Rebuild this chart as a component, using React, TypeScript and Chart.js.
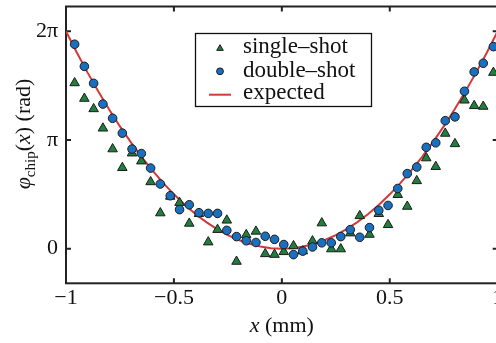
import React, { useEffect, useRef } from 'react';
import { Chart, registerables } from 'chart.js';

Chart.register(...registerables);

// ---- data ----
const positions = [
  -0.96, -0.915, -0.872, -0.829, -0.784, -0.739, -0.694, -0.651, -0.608, -0.563,
  -0.517, -0.474, -0.429, -0.384, -0.341, -0.298, -0.255, -0.21, -0.165, -0.12,
  -0.077, -0.034, 0.009, 0.054, 0.097, 0.142, 0.185, 0.229, 0.273, 0.317,
  0.361, 0.406, 0.449, 0.492, 0.537, 0.581, 0.625, 0.669, 0.713, 0.757,
  0.802, 0.846, 0.891, 0.933, 0.98,
];
const singleShot = [
  4.79, 4.34, 4.04, 3.48, 2.88, 2.34, 2.76, 2.53, 1.93, 1.03,
  1.51, 1.33, 0.73, 1.01, 0.19, 0.55, 0.82, -0.37, 0.4, 0.5,
  -0.15, -0.17, -0.09, 0.08, -0.07, 0.22, 0.74, -0.01, -0.01, 0.45,
  0.95, 0.41, 1.01, 0.69, 1.56, 1.22, 1.96, 2.62, 2.37, 3.33,
  3.03, 4.29, 4.13, 4.11, 5.09,
];
const doubleShot = [
  5.91, 5.27, 4.78, 4.18, 3.77, 3.34, 2.88, 2.75, 2.33, 1.87,
  1.53, 1.13, 1.27, 1.04, 1.02, 1.02, 0.53, 0.35, 0.23, 0.18,
  0.36, 0.27, 0.12, -0.17, -0.07, 0.05, 0.17, 0.17, 0.35, 0.55,
  0.33, 0.61, 1.11, 1.25, 1.74, 2.17, 2.36, 2.93, 3.06, 3.7,
  3.81, 4.55, 5.11, 5.36, 5.84,
];
const expectedX = [
  -1, -0.95, -0.9, -0.85, -0.8, -0.75, -0.7, -0.65, -0.6, -0.55,
  -0.5, -0.45, -0.4, -0.35, -0.3, -0.25, -0.2, -0.15, -0.1, -0.05,
  0, 0.05, 0.1, 0.15, 0.2, 0.25, 0.3, 0.35, 0.4, 0.45,
  0.5, 0.55, 0.6, 0.65, 0.7, 0.75, 0.8, 0.85, 0.9, 0.95, 1,
];
const expectedY = [
  6.283, 5.671, 5.089, 4.54, 4.021, 3.534, 3.079, 2.655, 2.262, 1.901,
  1.571, 1.272, 1.005, 0.77, 0.565, 0.393, 0.251, 0.141, 0.063, 0.016,
  0, 0.016, 0.063, 0.141, 0.251, 0.393, 0.565, 0.77, 1.005, 1.272,
  1.571, 1.901, 2.262, 2.655, 3.079, 3.534, 4.021, 4.54, 5.089, 5.671, 6.283,
];
const xTickValues = [-1, -0.5, 0, 0.5, 1];
const xTickLabels = ['\u22121', '\u22120.5', '0', '0.5', '1'];
const yTickValues = [0, Math.PI, 2 * Math.PI];
const yTickLabels = ['0', '\u03c0', '2\u03c0'];
const legendLabels = ['single\u2013shot', 'double\u2013shot', 'expected'];

// ---- styles ----
const W = 520;
const H = 343;
const SERIF = "'Liberation Serif', 'Times New Roman', serif";
const BLUE = '#1b6fbf';
const GREEN = '#1f7f3c';
const RED = '#d23a3a';
const EDGE = '#1c1c1c';
const AXIS = '#222222';

const decorPlugin = {
  id: 'decor',
  beforeDatasetsDraw(chart: any) {
    const { ctx, chartArea: a, scales } = chart;
    ctx.save();
    ctx.strokeStyle = AXIS;
    ctx.lineWidth = 2;
    ctx.strokeRect(a.left, a.top, a.right - a.left, a.bottom - a.top);
    const tl = 5;
    ctx.beginPath();
    xTickValues.forEach((v) => {
      const px = scales.x.getPixelForValue(v);
      ctx.moveTo(px, a.bottom);
      ctx.lineTo(px, a.bottom - tl);
      ctx.moveTo(px, a.top);
      ctx.lineTo(px, a.top + tl);
    });
    yTickValues.forEach((v) => {
      const py = scales.y.getPixelForValue(v);
      ctx.moveTo(a.left, py);
      ctx.lineTo(a.left + tl, py);
      ctx.moveTo(a.right, py);
      ctx.lineTo(a.right - tl, py);
    });
    ctx.stroke();
    ctx.restore();
  },
  afterDraw(chart: any) {
    const { ctx, scales } = chart;
    ctx.save();
    ctx.fillStyle = '#111';
    ctx.textBaseline = 'alphabetic';

    // x title
    const xs = [
      { t: 'x', f: `italic 22px ${SERIF}` },
      { t: ' (mm)', f: `22px ${SERIF}` },
    ];
    let tw = 0;
    xs.forEach((s) => { ctx.font = s.f; tw += ctx.measureText(s.t).width; });
    let cx = scales.x.getPixelForValue(0) - tw / 2;
    xs.forEach((s) => { ctx.font = s.f; ctx.fillText(s.t, cx, 332); cx += ctx.measureText(s.t).width; });

    // y title (rotated)
    const ys = [
      { t: '\u03c6', f: `italic 22px ${SERIF}`, dy: 0 },
      { t: 'chip', f: `15px ${SERIF}`, dy: 5 },
      { t: '(', f: `22px ${SERIF}`, dy: 0 },
      { t: 'x', f: `italic 22px ${SERIF}`, dy: 0 },
      { t: ') (rad)', f: `22px ${SERIF}`, dy: 0 },
    ];
    tw = 0;
    ys.forEach((s) => { ctx.font = s.f; tw += ctx.measureText(s.t).width; });
    ctx.translate(30, 134);
    ctx.rotate(-Math.PI / 2);
    let ty = -tw / 2;
    ys.forEach((s) => { ctx.font = s.f; ctx.fillText(s.t, ty, s.dy); ty += ctx.measureText(s.t).width; });
    ctx.restore();

    // legend
    ctx.save();
    ctx.fillStyle = '#ffffff';
    ctx.strokeStyle = '#111';
    ctx.lineWidth = 1.3;
    ctx.fillRect(195.5, 33.5, 176, 73);
    ctx.strokeRect(195.5, 33.5, 176, 73);
    ctx.lineWidth = 1;
    ctx.strokeStyle = EDGE;
    const r = 3.8;
    const tx = 220, tyy = 48.5;
    ctx.beginPath();
    ctx.moveTo(tx, tyy - r);
    ctx.lineTo(tx + r * Math.sin((2 * Math.PI) / 3), tyy - r * Math.cos((2 * Math.PI) / 3));
    ctx.lineTo(tx + r * Math.sin((4 * Math.PI) / 3), tyy - r * Math.cos((4 * Math.PI) / 3));
    ctx.closePath();
    ctx.fillStyle = GREEN;
    ctx.fill();
    ctx.stroke();
    ctx.beginPath();
    ctx.arc(220, 71.3, 3.4, 0, Math.PI * 2);
    ctx.fillStyle = BLUE;
    ctx.fill();
    ctx.stroke();
    ctx.beginPath();
    ctx.strokeStyle = RED;
    ctx.lineWidth = 2;
    ctx.moveTo(209, 94.7);
    ctx.lineTo(231, 94.7);
    ctx.stroke();
    ctx.fillStyle = '#111';
    ctx.font = `23px ${SERIF}`;
    ctx.textBaseline = 'alphabetic';
    ctx.fillText(legendLabels[0], 243, 52.5);
    ctx.fillText(legendLabels[1], 243, 76.5);
    ctx.fillText(legendLabels[2], 243, 99);
    ctx.restore();
  },
};

export default function App() {
  const ref = useRef<HTMLCanvasElement>(null);
  useEffect(() => {
    if (!ref.current) return;
    const tickFont = { family: SERIF, size: 22 };
    const chart = new Chart(ref.current, {
      type: 'scatter',
      data: {
        datasets: [
          {
            label: legendLabels[2],
            data: expectedX.map((x, i) => ({ x, y: expectedY[i] })),
            showLine: true,
            borderColor: RED,
            borderWidth: 2,
            pointRadius: 0,
            tension: 0,
            order: 3,
          },
          {
            label: legendLabels[0],
            data: positions.map((x, i) => ({ x, y: singleShot[i] })),
            pointStyle: 'triangle',
            pointRadius: 5.5,
            backgroundColor: GREEN,
            borderColor: EDGE,
            borderWidth: 1,
            order: 2,
            clip: false,
          },
          {
            label: legendLabels[1],
            data: positions.map((x, i) => ({ x, y: doubleShot[i] })),
            pointStyle: 'circle',
            pointRadius: 4.3,
            backgroundColor: BLUE,
            borderColor: EDGE,
            borderWidth: 1,
            order: 1,
            clip: false,
          },
        ],
      } as any,
      options: {
        responsive: false,
        animation: false,
        devicePixelRatio: 1,
        events: [],
        layout: { padding: { top: 3.3, right: W - 497.7, left: 0, bottom: 0 } },
        plugins: { legend: { display: false }, tooltip: { enabled: false } },
        scales: {
          x: {
            type: 'linear',
            min: -1,
            max: 1,
            afterBuildTicks: (s: any) => { s.ticks = xTickValues.map((v) => ({ value: v })); },
            afterFit: (s: any) => {
              s.height = H - 283.3;
              s.paddingLeft = 0; s.paddingRight = 0; s.paddingTop = 0; s.paddingBottom = 0;
            },
            ticks: {
              callback: (_v: any, i: number) => xTickLabels[i],
              font: tickFont,
              color: '#111',
              padding: 2,
              maxRotation: 0,
              autoSkip: false,
            },
            grid: { display: false, drawTicks: false },
            border: { display: false },
          },
          y: {
            type: 'linear',
            min: -1,
            max: 7,
            afterBuildTicks: (s: any) => { s.ticks = yTickValues.map((v) => ({ value: v })); },
            afterFit: (s: any) => {
              s.width = 66;
              s.paddingLeft = 0; s.paddingRight = 0; s.paddingTop = 0; s.paddingBottom = 0;
            },
            ticks: {
              callback: (_v: any, i: number) => yTickLabels[i],
              font: tickFont,
              color: '#111',
              padding: 8,
              autoSkip: false,
            },
            grid: { display: false, drawTicks: false },
            border: { display: false },
          },
        },
      } as any,
      plugins: [decorPlugin],
    });
    return () => chart.destroy();
  }, []);
  return (
    <div style={{ position: 'fixed', left: 0, top: 0, width: 496, height: 343, overflow: 'hidden', background: '#fff' }}>
      <canvas ref={ref} width={W} height={H} style={{ width: W, height: H, display: 'block' }} />
    </div>
  );
}
